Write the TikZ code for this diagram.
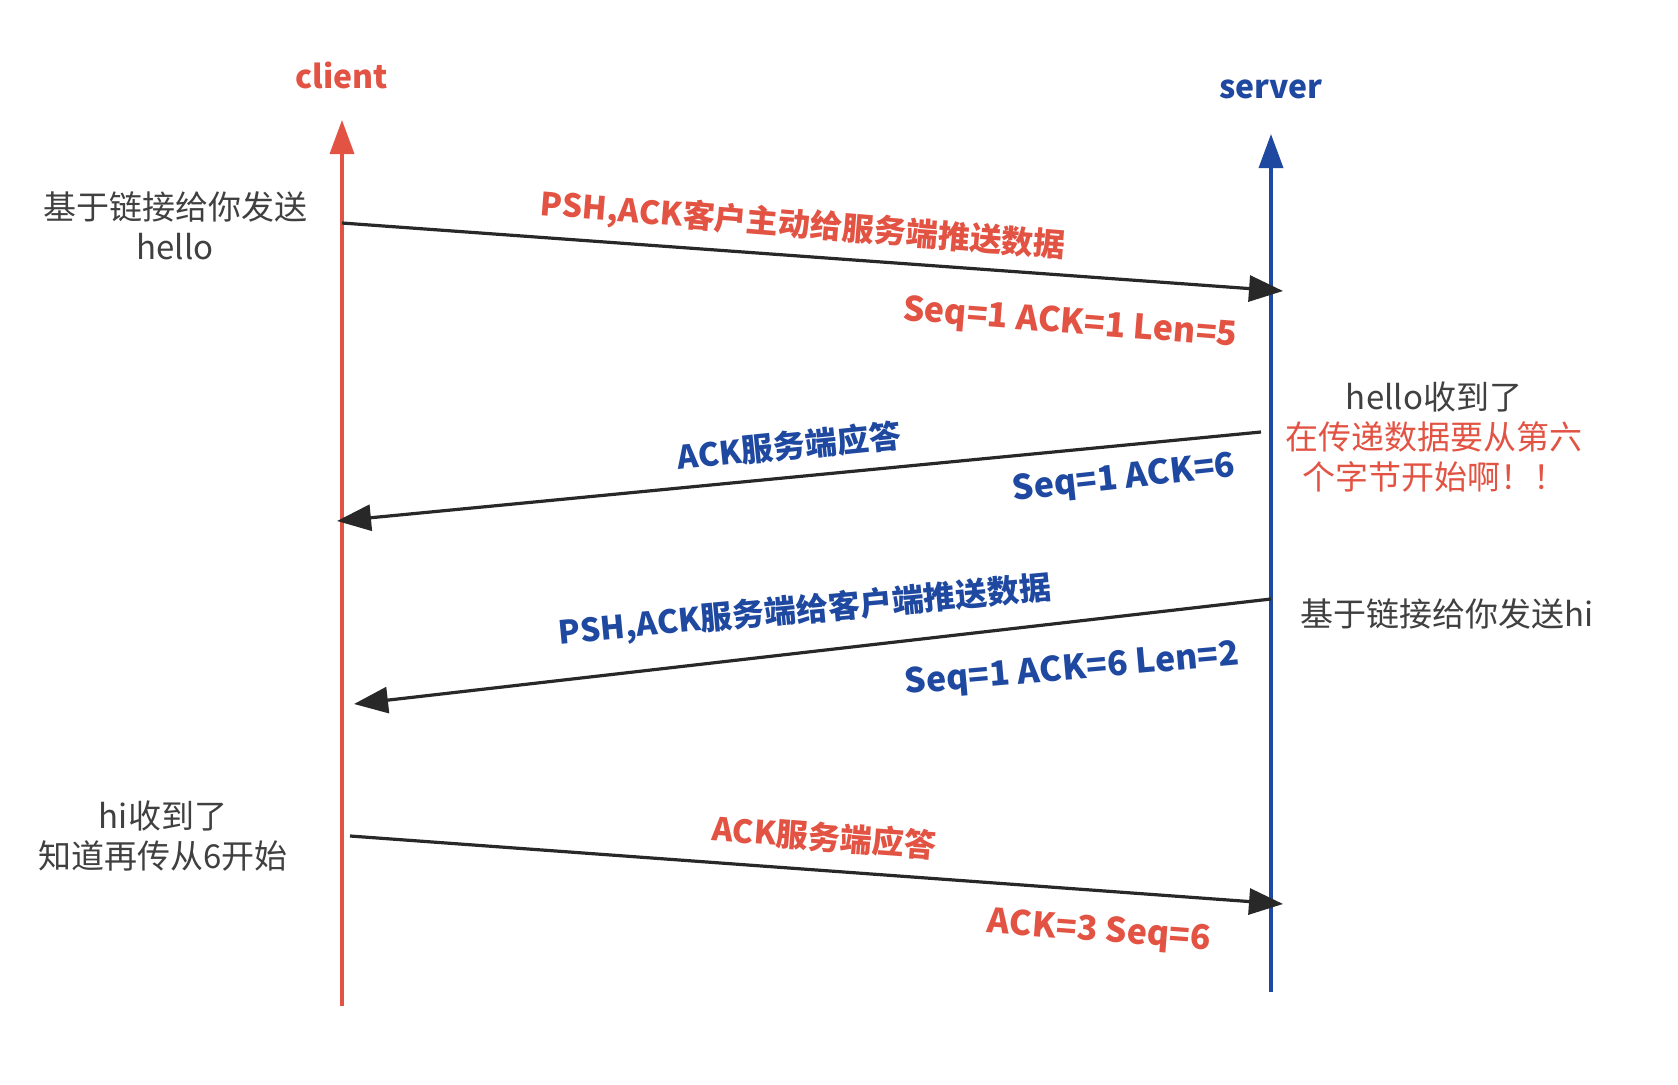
\documentclass[tikz,border=0pt]{standalone}
\usepackage{fontspec}
\setmainfont{Noto Sans CJK SC}
\usetikzlibrary{arrows.meta}
\definecolor{cred}{RGB}{226,83,67}
\definecolor{cblue}{RGB}{31,73,160}
\definecolor{cgray}{RGB}{64,64,64}
\definecolor{carrow}{RGB}{40,40,40}
\tikzset{
  lifered/.style={draw=cred,line width=3.5pt,-{Triangle[length=34pt,width=24pt]}},
  lifeblue/.style={draw=cblue,line width=3.5pt,-{Triangle[length=34pt,width=24pt]}},
  msg/.style={draw=carrow,line width=3.2pt,-{Triangle[length=34pt,width=26pt]}},
  title/.style={font=\fontsize{32}{36}\selectfont\bfseries,inner sep=0pt},
  lbl/.style={font=\fontsize{32}{36}\selectfont\bfseries,inner sep=0pt},
  seq/.style={font=\fontsize{34}{38}\selectfont\bfseries,inner sep=0pt},
  note/.style={font=\fontsize{33}{40}\selectfont,text=cgray,align=center,inner sep=0pt},
}
\begin{document}
\begin{tikzpicture}[x=1pt,y=-1pt]
\useasboundingbox[fill=white] (0,0) rectangle (1678,1084);
% lifelines
\coordinate (cbot) at (342,1006);
\coordinate (ctop) at (342,120);
\coordinate (sbot) at (1271,992);
\coordinate (stop) at (1271,134);
\draw[lifered] (cbot) -- (ctop);
\draw[lifeblue] (sbot) -- (stop);
\node[title,text=cred] (client) at (342,75) {client};
\node[title,text=cblue] (server) at (1271,89) {server};
% message 1
\coordinate (m1s) at (342,223);
\coordinate (m1e) at (1283,291);
\draw[msg] (m1s) -- (m1e);
\node[lbl,text=cred,rotate=-4.6] (l1a) at (803,226) {PSH,ACK客户主动给服务端推送数据};
\node[seq,text=cred,rotate=-4.5] (l1b) at (1070,324) {Seq=1 ACK=1 Len=5};
% message 2
\coordinate (m2s) at (1261,432);
\coordinate (m2e) at (337,521);
\draw[msg] (m2s) -- (m2e);
\node[lbl,text=cblue,rotate=5.8] (l2a) at (789,446) {ACK服务端应答};
\node[seq,text=cblue,rotate=6.3] (l2b) at (1124,479) {Seq=1 ACK=6};
% message 3
\coordinate (m3s) at (1271,599);
\coordinate (m3e) at (354,704);
\draw[msg] (m3s) -- (m3e);
\node[lbl,text=cblue,rotate=5.3] (l3a) at (805,611) {PSH,ACK服务端给客户端推送数据};
\node[seq,text=cblue,rotate=5] (l3b) at (1072,670) {Seq=1 ACK=6 Len=2};
% message 4
\coordinate (m4s) at (350,836);
\coordinate (m4e) at (1283,904);
\draw[msg] (m4s) -- (m4e);
\node[lbl,text=cred,rotate=-4.3] (l4a) at (824,837) {ACK服务端应答};
\node[seq,text=cred,rotate=-4.3] (l4b) at (1099,932) {ACK=3 Seq=6};
% notes
\node[note] (n1) at (175,226) {基于链接给你发送\\hello};
\node[note] (n2) at (1434,437) {hello收到了\\\textcolor{cred}{在传递数据要从第六}\\\textcolor{cred}{个字节开始啊！！}};
\node[note] (n3) at (1447,614) {基于链接给你发送hi};
\node[note] (n4) at (163,836) {hi收到了\\知道再传从6开始};
\end{tikzpicture}
\end{document}
